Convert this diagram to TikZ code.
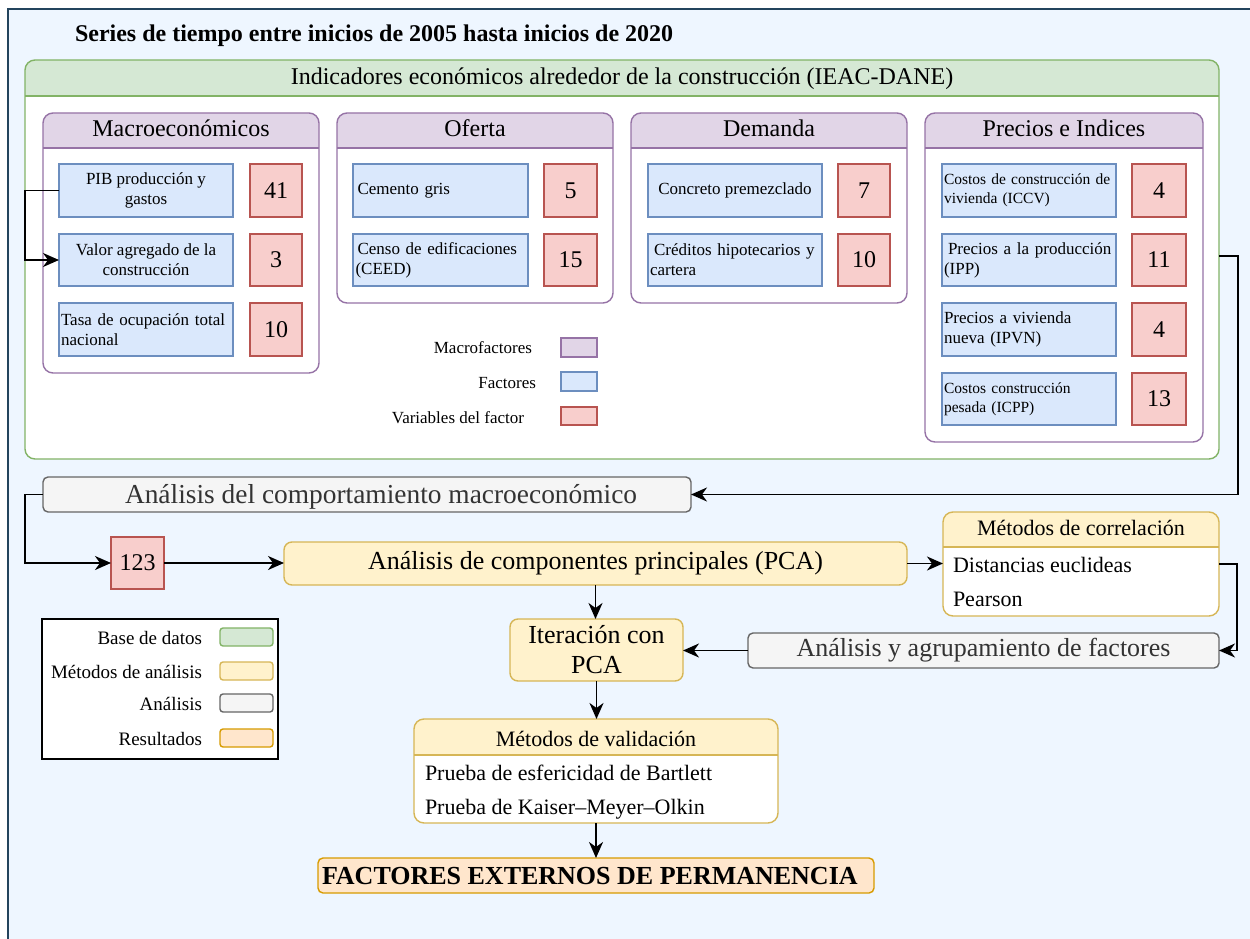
\documentclass[tikz,border=0pt]{standalone}
\usepackage{fontspec}
\setmainfont{Liberation Serif}
\usetikzlibrary{arrows.meta,fit}

\definecolor{bgF}{HTML}{EEF6FF}
\definecolor{bgD}{HTML}{23445D}
\definecolor{grnF}{HTML}{D5E8D4}\definecolor{grnD}{HTML}{82B366}
\definecolor{purF}{HTML}{E1D5E7}\definecolor{purD}{HTML}{9673A6}
\definecolor{bluF}{HTML}{DAE8FC}\definecolor{bluD}{HTML}{6C8EBF}
\definecolor{redF}{HTML}{F8CECC}\definecolor{redD}{HTML}{B85450}
\definecolor{yelF}{HTML}{FFF2CC}\definecolor{yelD}{HTML}{D6B656}
\definecolor{gryF}{HTML}{F5F5F5}\definecolor{gryD}{HTML}{666666}\definecolor{gryT}{HTML}{333333}
\definecolor{orgF}{HTML}{FFE6CC}\definecolor{orgD}{HTML}{D79B00}

\newcommand{\fsz}[2]{\fontsize{#1}{#2}\selectfont}

\tikzset{
  box/.style n args={4}{inner sep=0pt, outer sep=0pt,
    minimum width={(#3-#1)*1pt}, minimum height={(#4-#2)*1pt},
    at={({(#1+#3)/2},{(#2+#4)/2})}},
  txt/.style={inner sep=0pt, outer sep=0pt},
  fac/.style={draw=bluD, fill=bluF, line width=1.4pt, font=\fsz{17}{20}},
  facl/.style={fac, align=left, text width=170pt},
  var/.style={draw=redD, fill=redF, line width=1.4pt, font=\fsz{24}{28}},
  ana/.style={draw=gryD, fill=gryF, text=gryT, rounded corners=5pt, line width=1.4pt, font=\fsz{26}{30}},
  met/.style={draw=yelD, fill=yelF, rounded corners=8pt, line width=1.4pt, font=\fsz{26}{30}},
  res/.style={draw=orgD, fill=orgF, rounded corners=5pt, line width=1.4pt, font=\bfseries\fsz{26}{30}},
  swatch/.style={line width=1.4pt},
  conn/.style={line width=1.9pt, -{Stealth[length=16pt,width=14pt,inset=5pt]}},
}

% container with a coloured title band: name, x1, y1, x2, y2, band bottom, colour, radius
\newcommand{\mklane}[8]{%
  \node[box={#2}{#3}{#4}{#5}, fill=white, rounded corners=#8] (#1) {};
  \begin{scope}
    \clip (#2,#3) rectangle (#4,#6);
    \fill[#7F, rounded corners=#8] (#1.north west) rectangle (#1.south east);
  \end{scope}
  \draw[#7D, line width=1.4pt, rounded corners=#8] (#1.north west) rectangle (#1.south east);
  \draw[#7D, line width=1.4pt] (#2,#6) -- (#4,#6);
}

\begin{document}
\begin{tikzpicture}[x=1pt, y=-1pt]
\useasboundingbox (0,0) rectangle (1250,939);
\fill[white] (0,0) rectangle (1250,939);
\fill[bgF] (8,9) rectangle (1250,939);
\draw[bgD, line width=2pt] (8,939) -- (8,9) -- (1250,9);

\node[txt, anchor=base west, font=\bfseries\fsz{24}{28}] (title) at (75,42)
  {Series de tiempo entre inicios de 2005 hasta inicios de 2020};

% database of indicators
\mklane{iea}{25}{60}{1219}{459}{96}{grn}{10pt}
\node[txt, anchor=base, font=\fsz{24}{28}] (ieat) at (622,85)
  {Indicadores económicos alrededor de la construcción (IEAC-DANE)};

% macrofactors
\mklane{mac}{43}{113}{319}{373}{148}{pur}{10pt}
\node[txt, anchor=base, font=\fsz{24}{28}] (mact) at (181,137) {Macroeconómicos};
\mklane{ofe}{337}{113}{613}{303}{148}{pur}{10pt}
\node[txt, anchor=base, font=\fsz{24}{28}] (ofet) at (475,137) {Oferta};
\mklane{dem}{631}{113}{907}{303}{148}{pur}{10pt}
\node[txt, anchor=base, font=\fsz{24}{28}] (demt) at (769,137) {Demanda};
\mklane{pre}{925}{113}{1203}{442}{148}{pur}{10pt}
\node[txt, anchor=base, font=\fsz{24}{28}] (pret) at (1064,137) {Precios e Indices};

% factors and their variable counts
\node[fac, box={59}{164}{233}{217}, align=center] (pib) {PIB producción y\\gastos};
\node[var, box={250}{164}{302}{217}] (pibv) {41};
\node[fac, box={59}{234}{233}{286}, align=center] (vac) {Valor agregado de la\\construcción};
\node[var, box={250}{234}{302}{286}] (vacv) {3};
\node[facl, box={59}{303}{233}{356}] (tas) {Tasa de ocupación total\\nacional};
\node[var, box={250}{303}{302}{356}] (tasv) {10};

\node[facl, box={353}{164}{528}{217}] (cem) {\hspace{2pt}Cemento gris};
\node[var, box={544}{164}{597}{217}] (cemv) {5};
\node[facl, box={353}{234}{528}{286}] (cen) {\hspace{2pt}Censo de edificaciones\\(CEED)};
\node[var, box={544}{234}{597}{286}] (cenv) {15};

\node[fac, box={648}{164}{822}{217}] (con) {Concreto premezclado};
\node[var, box={838}{164}{890}{217}] (conv) {7};
\node[facl, box={648}{234}{822}{286}] (cre) {\hspace{4pt}Créditos hipotecarios y\\cartera};
\node[var, box={838}{234}{890}{286}] (crev) {10};

\node[facl, box={942}{164}{1116}{217}, font=\fsz{15.5}{19}] (icc) {Costos de construcción de\\vivienda (ICCV)};
\node[var, box={1132}{164}{1186}{217}] (iccv) {4};
\node[facl, box={942}{234}{1116}{286}] (ipp) {\hspace{4pt}Precios a la producción\\(IPP)};
\node[var, box={1132}{234}{1186}{286}] (ippv) {11};
\node[facl, box={942}{303}{1116}{356}] (ipv) {Precios a vivienda\\nueva (IPVN)};
\node[var, box={1132}{303}{1186}{356}] (ipvv) {4};
\node[facl, box={942}{373}{1116}{425}, font=\fsz{15.5}{19}] (icp) {Costos construcción\\pesada (ICPP)};
\node[var, box={1132}{373}{1186}{425}] (icpv) {13};

% key of the indicator block
\node[txt, anchor=base east, font=\fsz{17}{20}] (kmt) at (532,353) {Macrofactores};
\node[swatch, box={561}{338}{597}{357}, draw=purD, fill=purF] (kmb) {};
\node[txt, anchor=base east, font=\fsz{17}{20}] (kft) at (536,388) {Factores};
\node[swatch, box={561}{372}{597}{391}, draw=bluD, fill=bluF] (kfb) {};
\node[txt, anchor=base east, font=\fsz{17}{20}] (kvt) at (524,423) {Variables del factor};
\node[swatch, box={561}{407}{597}{425}, draw=redD, fill=redF] (kvb) {};

% analysis flow
\node[ana, box={43}{477}{691}{512}] (gr1) {};
\node[txt, anchor=base west, text=gryT, font=\fsz{27.4}{31}] (gr1t) at (125,503)
  {Análisis del comportamiento macroeconómico};
\node[var, box={111}{537}{164}{589}] (n123) {123};
\node[met, box={284}{542}{907}{585}] (pca) {Análisis de componentes principales (PCA)};

\mklane{corr}{943}{512}{1219}{616}{547}{yel}{10pt}
\node[txt, anchor=base, font=\fsz{22}{26}] (corrt) at (1081,535) {Métodos de correlación};
\node[txt, anchor=base west, font=\fsz{22}{26}] (corr1) at (953,572) {Distancias euclideas};
\node[txt, anchor=base west, font=\fsz{22}{26}] (corr2) at (953,606) {Pearson};

\node[ana, box={748}{633}{1219}{668}] (gr2) {Análisis y agrupamiento de factores};
\node[met, box={510}{619}{683}{681}, align=center] (iter) {Iteración con\\PCA};

\mklane{valid}{414}{719}{778}{823}{755}{yel}{10pt}
\node[txt, anchor=base, font=\fsz{22}{26}] (validt) at (596,746) {Métodos de validación};
\node[txt, anchor=base west, font=\fsz{22}{26}] (valid1) at (425,780) {Prueba de esfericidad de Bartlett};
\node[txt, anchor=base west, font=\fsz{22}{26}] (valid2) at (425,814) {Prueba de Kaiser–Meyer–Olkin};

\node[res, box={318}{858}{874}{893}] (fep) {};
\node[txt, anchor=base west, font=\bfseries\fsz{26}{30}] (fept) at (322,884)
  {FACTORES EXTERNOS DE PERMANENCIA};

% key of the flow
\node[box={42}{619}{278}{759}, draw=black, fill=white, line width=1.4pt] (key) {};
\node[txt, anchor=base east, font=\fsz{19}{22}] (k1t) at (202,644) {Base de datos};
\node[swatch, box={220}{628}{273}{646}, draw=grnD, fill=grnF, rounded corners=3pt] (k1b) {};
\node[txt, anchor=base east, font=\fsz{19}{22}] (k2t) at (202,678) {Métodos de análisis};
\node[swatch, box={220}{662}{273}{680}, draw=yelD, fill=yelF, rounded corners=3pt] (k2b) {};
\node[txt, anchor=base east, font=\fsz{19}{22}] (k3t) at (202,710) {Análisis};
\node[swatch, box={220}{694}{273}{712}, draw=gryD, fill=gryF, rounded corners=3pt] (k3b) {};
\node[txt, anchor=base east, font=\fsz{19}{22}] (k4t) at (202,745) {Resultados};
\node[swatch, box={220}{729}{273}{747}, draw=orgD, fill=orgF, rounded corners=3pt] (k4b) {};

% connectors
\draw[conn] (pib.west) -- ++(-34,0) |- (vac.west);
\draw[conn] ([yshift=3.5pt]iea.east) -- ++(19,0) |- (gr1.east);
\draw[conn] (gr1.west) -- ++(-18,0) |- (n123.west);
\draw[conn] (n123.east) -- (n123.east -| pca.west);
\draw[conn] (pca.east) -- (pca.east -| corr.west);
\draw[conn] (corr.east) -- ++(18,0) |- (gr2.east);
\draw[conn] (gr2.west) -- (gr2.west -| iter.east);
\draw[conn] (pca.south) -- (pca.south |- iter.north);
\draw[conn] (iter.south) -- (iter.south |- valid.north);
\draw[conn] (valid.south) -- (valid.south |- fep.north);
\end{tikzpicture}
\end{document}
